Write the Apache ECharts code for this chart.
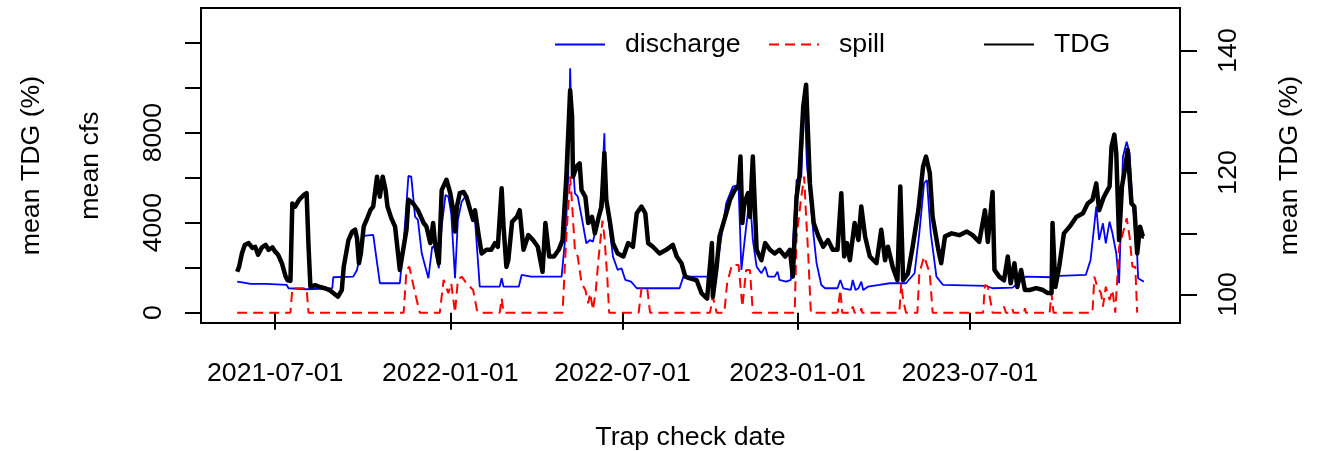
<!DOCTYPE html>
<html>
<head>
<meta charset="utf-8">
<title>Discharge, spill and TDG by trap check date</title>
<script src="https://cdn.jsdelivr.net/npm/echarts@6/dist/echarts.min.js"></script>
<style>
  html, body { margin: 0; padding: 0; background: #ffffff; }
  #chart { width: 1317px; height: 451px; }
</style>
</head>
<body>
<div id="chart"></div>
<script>
// ---- Total dissolved gas (%), right axis ----
const tdgDates = [
  '2021-05-22','2021-05-24','2021-05-27','2021-05-30','2021-06-03','2021-06-07','2021-06-10','2021-06-13',
  '2021-06-17','2021-06-21','2021-06-24','2021-06-28','2021-07-01','2021-07-04','2021-07-08','2021-07-12',
  '2021-07-14','2021-07-17','2021-07-19','2021-07-22','2021-07-26','2021-07-31','2021-08-03','2021-08-05',
  '2021-08-07','2021-08-12','2021-08-17','2021-08-22','2021-08-27','2021-08-31','2021-09-05','2021-09-09',
  '2021-09-11','2021-09-16','2021-09-20','2021-09-23','2021-09-25','2021-09-27','2021-09-29','2021-10-02',
  '2021-10-05','2021-10-09','2021-10-12','2021-10-16','2021-10-19','2021-10-22','2021-10-25','2021-10-27',
  '2021-10-31','2021-11-04','2021-11-09','2021-11-13','2021-11-16','2021-11-18','2021-11-23','2021-11-28',
  '2021-12-04','2021-12-07','2021-12-11','2021-12-14','2021-12-16','2021-12-20','2021-12-23','2021-12-28',
  '2022-01-01','2022-01-04','2022-01-06','2022-01-08','2022-01-11','2022-01-15','2022-01-18','2022-01-22',
  '2022-01-25','2022-01-27','2022-01-31','2022-02-03','2022-02-08','2022-02-13','2022-02-17','2022-02-20',
  '2022-02-24','2022-02-26','2022-03-01','2022-03-03','2022-03-07','2022-03-12','2022-03-15','2022-03-19',
  '2022-03-24','2022-03-29','2022-04-03','2022-04-08','2022-04-11','2022-04-15','2022-04-20','2022-04-25',
  '2022-04-29','2022-05-03','2022-05-07','2022-05-09','2022-05-10','2022-05-14','2022-05-17','2022-05-19',
  '2022-05-23','2022-05-26','2022-05-30','2022-06-02','2022-06-06','2022-06-09','2022-06-12','2022-06-14',
  '2022-06-18','2022-06-21','2022-06-26','2022-07-02','2022-07-07','2022-07-12','2022-07-16','2022-07-21',
  '2022-07-25','2022-07-28','2022-08-02','2022-08-09','2022-08-16','2022-08-23','2022-08-27','2022-09-01',
  '2022-09-05','2022-09-10','2022-09-17','2022-09-22','2022-09-28','2022-10-03','2022-10-04','2022-10-08',
  '2022-10-11','2022-10-17','2022-10-22','2022-10-27','2022-10-31','2022-11-02','2022-11-04','2022-11-06',
  '2022-11-10','2022-11-12','2022-11-15','2022-11-19','2022-11-24','2022-11-28','2022-12-03','2022-12-08',
  '2022-12-13','2022-12-19','2022-12-24','2022-12-27','2022-12-31','2023-01-03','2023-01-07','2023-01-10',
  '2023-01-12','2023-01-14','2023-01-18','2023-01-23','2023-01-28','2023-02-02','2023-02-07','2023-02-12',
  '2023-02-16','2023-02-19','2023-02-22','2023-02-25','2023-03-02','2023-03-06','2023-03-09','2023-03-13',
  '2023-03-18','2023-03-25','2023-03-30','2023-04-03','2023-04-06','2023-04-11','2023-04-16','2023-04-19',
  '2023-04-22','2023-04-27','2023-05-02','2023-05-08','2023-05-13','2023-05-16','2023-05-20','2023-05-23',
  '2023-05-29','2023-06-01','2023-06-05','2023-06-12','2023-06-20','2023-06-28','2023-07-04','2023-07-11',
  '2023-07-17','2023-07-20','2023-07-25','2023-07-27','2023-08-01','2023-08-06','2023-08-10','2023-08-13',
  '2023-08-17','2023-08-20','2023-08-24','2023-08-28','2023-09-02','2023-09-09','2023-09-16','2023-09-21',
  '2023-09-25','2023-09-26','2023-09-29','2023-10-03','2023-10-08','2023-10-14','2023-10-21','2023-10-28',
  '2023-11-02','2023-11-07','2023-11-11','2023-11-14','2023-11-19','2023-11-25','2023-11-27','2023-11-30',
  '2023-12-02','2023-12-05','2023-12-08','2023-12-11','2023-12-14','2023-12-18','2023-12-21','2023-12-24',
  '2023-12-27','2023-12-30','2023-12-31'
];
const tdgValues = [
  103.7,104.5,106.7,108.1,108.4,107.6,107.8,106.5,
  107.7,108.1,107.3,107.7,107.0,106.5,105.1,102.9,
  102.3,102.2,114.9,114.4,115.5,116.3,116.6,108.0,
  101.2,101.5,101.2,101.0,100.7,100.2,99.6,100.7,
  104.5,108.9,110.3,110.6,109.2,105.1,106.7,111.1,
  112.2,113.8,114.4,119.3,116.0,119.3,117.1,114.4,
  112.5,111.1,104.0,107.8,110.6,115.5,114.9,113.8,
  111.7,111.1,108.4,111.7,108.4,105.1,117.1,118.8,
  116.6,113.8,110.3,114.4,116.6,116.8,116.0,113.8,
  112.2,113.8,109.5,106.7,107.3,107.3,108.4,107.8,
  117.4,111.1,104.5,105.6,111.9,112.7,113.8,107.3,
  109.7,108.9,107.8,103.7,111.7,106.2,106.2,107.3,
  108.9,119.3,133.5,129.2,119.3,121.0,121.5,117.1,
  116.0,111.7,112.7,110.0,112.7,114.4,123.2,115.5,
  111.7,108.4,106.7,106.2,108.4,107.8,113.3,114.4,
  113.3,108.4,107.8,106.7,107.3,108.1,106.2,105.1,
  102.9,102.6,102.3,100.2,99.3,108.4,99.6,104.5,
  109.5,112.7,115.5,117.1,117.7,122.6,111.7,114.9,
  116.6,112.7,122.6,107.3,105.6,108.4,107.3,106.7,
  107.3,106.2,107.3,102.9,116.0,119.3,130.8,134.4,
  126.4,118.2,111.7,109.5,107.8,108.9,107.3,107.3,
  116.6,106.2,108.4,105.6,111.7,108.9,114.4,109.5,
  106.2,105.1,110.6,105.6,107.8,104.5,102.3,117.7,
  102.3,103.4,107.8,113.8,121.0,122.6,119.9,112.7,
  107.3,105.1,109.5,110.0,109.7,110.3,109.7,108.6,
  113.8,108.6,116.8,104.0,102.9,102.3,106.2,101.8,
  105.1,101.2,104.0,100.7,100.7,101.0,100.7,100.2,
  100.2,111.7,101.2,104.5,110.0,111.1,112.7,113.3,
  114.9,115.5,118.2,113.8,116.0,117.7,124.2,126.2,
  123.2,108.9,117.7,120.4,123.7,114.9,114.4,106.7,
  111.1,109.5,109.5
];

// ---- Mean discharge (cfs), left axis ----
const dischargeDates = [
  '2021-05-22','2021-05-29','2021-06-05','2021-06-22','2021-07-13','2021-07-15','2021-08-03','2021-08-30',
  '2021-08-31','2021-09-21','2021-09-25','2021-10-02','2021-10-12','2021-10-19','2021-11-09','2021-11-13',
  '2021-11-18','2021-11-21','2021-11-25','2021-11-28','2021-12-02','2021-12-09','2021-12-13','2021-12-16',
  '2021-12-20','2021-12-23','2021-12-27','2021-12-30','2022-01-02','2022-01-06','2022-01-09','2022-01-13',
  '2022-01-18','2022-01-22','2022-01-27','2022-02-01','2022-02-22','2022-02-24','2022-02-26','2022-03-14',
  '2022-03-17','2022-03-27','2022-04-28','2022-05-02','2022-05-05','2022-05-07','2022-05-09','2022-05-12',
  '2022-05-15','2022-05-19','2022-05-24','2022-05-28','2022-05-31','2022-06-06','2022-06-09','2022-06-12',
  '2022-06-13','2022-06-16','2022-06-21','2022-06-26','2022-06-30','2022-07-04','2022-07-10','2022-07-16',
  '2022-08-30','2022-09-03','2022-09-30','2022-10-06','2022-10-11','2022-10-18','2022-10-25','2022-10-31',
  '2022-11-03','2022-11-08','2022-11-12','2022-11-15','2022-11-19','2022-11-24','2022-11-28','2022-12-01',
  '2022-12-08','2022-12-11','2022-12-13','2022-12-20','2022-12-25','2022-12-31','2023-01-05','2023-01-08',
  '2023-01-11','2023-01-14','2023-01-18','2023-01-21','2023-01-26','2023-01-30','2023-02-12','2023-02-15',
  '2023-02-18','2023-02-26','2023-02-28','2023-03-03','2023-03-06','2023-03-09','2023-03-11','2023-03-16',
  '2023-03-28','2023-04-08','2023-04-25','2023-05-04','2023-05-09','2023-05-14','2023-05-17','2023-05-21',
  '2023-05-27','2023-06-03','2023-07-18','2023-07-25','2023-08-15','2023-08-29','2023-09-26','2023-10-03',
  '2023-10-31','2023-11-05','2023-11-11','2023-11-14','2023-11-18','2023-11-21','2023-11-25','2023-11-28',
  '2023-12-02','2023-12-05','2023-12-09','2023-12-13','2023-12-16','2023-12-19','2023-12-23','2023-12-25',
  '2023-12-28','2023-12-31'
];
const dischargeValues = [
  1378,1333,1275,1275,1231,1084,1040,1084,
  1573,1600,1898,3409,3453,1307,1307,3084,
  6075,6044,4266,4120,2640,1529,2933,2862,
  1973,3822,5231,5155,4417,1529,4120,4933,
  5231,4564,4120,1155,1155,1529,1155,1155,
  1675,1600,1600,3378,6044,10861,7230,5306,
  5155,4266,3084,3231,3155,4266,5306,7973,
  5751,4266,2489,1898,1973,1453,1378,1084,
  1084,1600,1600,2044,2786,4862,5600,5675,
  1898,3822,5155,3231,2044,1751,2044,1600,
  1600,1822,1453,1378,1453,5897,6044,9897,
  6488,5306,3378,2195,1231,1084,1084,1453,
  1084,1009,1453,1009,1084,1378,1009,1155,
  1231,1307,1307,1751,3529,5751,5897,3529,
  1600,1231,1187,1084,1111,1600,1573,1631,
  1675,2342,4711,3231,3973,3084,4044,3529,
  2640,1307,6933,7600,7084,4862,3529,1529,
  1453,1378
];

// ---- Mean spill (cfs), left axis ----
const spillDates = [
  '2021-05-22','2021-07-17','2021-07-19','2021-08-03','2021-08-05','2021-11-13','2021-11-16','2021-11-19',
  '2021-11-25','2021-11-30','2021-12-21','2021-12-25','2021-12-30','2022-01-02','2022-01-06','2022-01-09',
  '2022-01-13','2022-01-18','2022-01-25','2022-01-29','2022-01-31','2022-02-22','2022-02-24','2022-02-26',
  '2022-04-29','2022-05-03','2022-05-07','2022-05-09','2022-05-12','2022-05-15','2022-05-19','2022-05-23',
  '2022-05-26','2022-05-28','2022-05-31','2022-06-03','2022-06-06','2022-06-10','2022-06-12','2022-06-15',
  '2022-06-17','2022-07-18','2022-07-21','2022-07-27','2022-07-30','2022-10-01','2022-10-04','2022-10-08',
  '2022-10-16','2022-10-19','2022-10-24','2022-10-31','2022-11-04','2022-11-08','2022-11-12','2022-11-15',
  '2022-12-29','2022-12-31','2023-01-05','2023-01-08','2023-01-10','2023-01-12','2023-01-15','2023-02-12',
  '2023-02-15','2023-02-17','2023-02-26','2023-02-28','2023-03-02','2023-03-08','2023-03-09','2023-03-10',
  '2023-04-18','2023-04-20','2023-04-22','2023-04-25','2023-05-07','2023-05-09','2023-05-14','2023-05-16',
  '2023-05-20','2023-05-23','2023-07-15','2023-07-17','2023-07-20','2023-07-25','2023-08-04','2023-08-06',
  '2023-08-08','2023-08-14','2023-08-15','2023-08-16','2023-08-27','2023-08-28','2023-08-29','2023-09-23',
  '2023-09-25','2023-09-27','2023-11-07','2023-11-09','2023-11-12','2023-11-16','2023-11-18','2023-11-21',
  '2023-11-25','2023-11-28','2023-12-01','2023-12-05','2023-12-09','2023-12-13','2023-12-16','2023-12-19',
  '2023-12-22','2023-12-24'
];
const spillValues = [
  0,0,1084,1084,0,0,1898,2044,
  862,0,0,1453,862,1307,0,1453,
  1600,1307,1009,120,0,0,640,0,
  0,3378,6044,4862,2787,2489,1307,1009,
  418,862,120,1009,2489,4088,3378,1600,
  0,0,1084,1084,0,0,711,0,
  0,1307,2120,2120,260,1898,1898,0,
  0,3378,5155,6044,4266,2787,0,0,
  1009,0,0,270,0,0,200,0,
  0,1307,564,0,0,1751,2489,2489,
  1751,0,0,1231,1155,0,0,270,
  0,0,150,0,0,200,0,0,
  862,0,0,1600,1155,862,267,1155,
  564,1009,0,2933,3529,4195,3378,2044,
  2044,0
];

// ---- Axis ticks and labels ----
const xTickDates = ['2021-07-01', '2022-01-01', '2022-07-01', '2023-01-01', '2023-07-01'];
const xRange = ['2021-04-14', '2024-02-07'];
const cfsTicks = [0, 2000, 4000, 6000, 8000, 10000, 12000];
const cfsTickLabels = [0, 4000, 8000];
const cfsRange = [-460, 13540];
const tdgTicks = [100, 110, 120, 130, 140];
const tdgTickLabels = [100, 120, 140];
const tdgRange = [95.29, 146.98];

const FONT = "'Liberation Sans', Arial, Helvetica, sans-serif";
const FS = 26.7;

// Dates are placed on a linear millisecond scale so the axis can carry
// ticks at exact calendar dates.
function toTime(s) {
  const p = s.split('-').map(Number);
  return Date.UTC(p[0], p[1] - 1, p[2]);
}
function pad2(n) { return (n < 10 ? '0' : '') + n; }
function fmtDate(v) {
  const d = new Date(v);
  return d.getUTCFullYear() + '-' + pad2(d.getUTCMonth() + 1) + '-' + pad2(d.getUTCDate());
}
function plain(v) { return String(v); }
function zip(dates, values) {
  return dates.map((d, i) => [toTime(d), values[i]]);
}

const xTicks = xTickDates.map(toTime);
const chart = echarts.init(document.getElementById('chart'), null, { renderer: 'canvas' });

// Legend entries show only the line sample (no point marker).
const legendCommon = {
  top: 26,
  itemWidth: 50,
  itemHeight: 14,
  selectedMode: false,
  lineStyle: { width: 2 },
  itemStyle: { opacity: 0, color: 'transparent', borderWidth: 0 },
  textStyle: { fontFamily: FONT, fontSize: FS, color: '#000', padding: [0, 0, 0, 15] }
};

chart.setOption({
  animation: false,
  backgroundColor: '#ffffff',
  textStyle: { fontFamily: FONT },
  grid: {
    left: 201, right: 137, top: 8, bottom: 128,
    outerBoundsMode: 'none',
    containLabel: false,
    show: true, borderColor: '#000', borderWidth: 2, backgroundColor: 'transparent'
  },
  legend: [
    Object.assign({ data: ['discharge'], left: 549 }, legendCommon),
    Object.assign({ data: ['spill'], left: 763 }, legendCommon),
    Object.assign({ data: ['TDG'], left: 978 }, legendCommon)
  ],
  xAxis: {
    type: 'value',
    min: toTime(xRange[0]),
    max: toTime(xRange[1]),
    axisLine: { show: false },
    splitLine: { show: false },
    axisTick: { show: true, customValues: xTicks, length: 17, lineStyle: { color: '#000', width: 2 } },
    axisLabel: {
      customValues: xTicks, formatter: fmtDate,
      fontFamily: FONT, fontSize: FS, color: '#000', margin: 37, hideOverlap: false
    },
    name: 'Trap check date',
    nameLocation: 'middle',
    nameGap: 101,
    nameTextStyle: { fontFamily: FONT, fontSize: FS, color: '#000' }
  },
  yAxis: [
    {
      type: 'value',
      position: 'left',
      min: cfsRange[0], max: cfsRange[1],
      axisLine: { show: false },
      splitLine: { show: false },
      axisTick: { show: true, customValues: cfsTicks, length: 16, lineStyle: { color: '#000', width: 2 } },
      axisLabel: {
        customValues: cfsTickLabels, rotate: 90, formatter: plain,
        fontFamily: FONT, fontSize: FS, color: '#000', margin: 34
      },
      name: 'mean cfs',
      nameLocation: 'middle',
      nameRotate: 90,
      nameGap: 97,
      nameTextStyle: { fontFamily: FONT, fontSize: FS, color: '#000' }
    },
    {
      type: 'value',
      position: 'right',
      min: tdgRange[0], max: tdgRange[1],
      axisLine: { show: false },
      splitLine: { show: false },
      axisTick: { show: true, customValues: tdgTicks, length: 17, lineStyle: { color: '#000', width: 2 } },
      axisLabel: {
        customValues: tdgTickLabels, rotate: 90, formatter: plain,
        fontFamily: FONT, fontSize: FS, color: '#000', margin: 35
      },
      name: 'mean TDG (%)',
      nameLocation: 'middle',
      nameRotate: 90,
      nameGap: 96,
      nameTextStyle: { fontFamily: FONT, fontSize: FS, color: '#000' }
    }
  ],
  graphic: [
    {
      type: 'text',
      x: 32, y: 165.5,
      rotation: Math.PI / 2,
      style: {
        text: 'mean TDG (%)', fontFamily: FONT, fontSize: FS, fill: '#000',
        align: 'center', verticalAlign: 'middle'
      }
    }
  ],
  series: [
    {
      name: 'discharge', type: 'line', yAxisIndex: 0,
      data: zip(dischargeDates, dischargeValues),
      showSymbol: false, symbol: 'none',
      lineStyle: { color: '#0000ff', width: 1.8 },
      itemStyle: { color: '#0000ff' }
    },
    {
      name: 'spill', type: 'line', yAxisIndex: 0,
      data: zip(spillDates, spillValues),
      showSymbol: false, symbol: 'none',
      lineStyle: { color: '#ff0000', width: 2, type: [10, 6] },
      itemStyle: { color: '#ff0000' }
    },
    {
      name: 'TDG', type: 'line', yAxisIndex: 1,
      data: zip(tdgDates, tdgValues),
      showSymbol: false, symbol: 'none',
      lineStyle: { color: '#000000', width: 4.5, join: 'round' },
      itemStyle: { color: '#000000' }
    }
  ]
});
</script>
</body>
</html>
